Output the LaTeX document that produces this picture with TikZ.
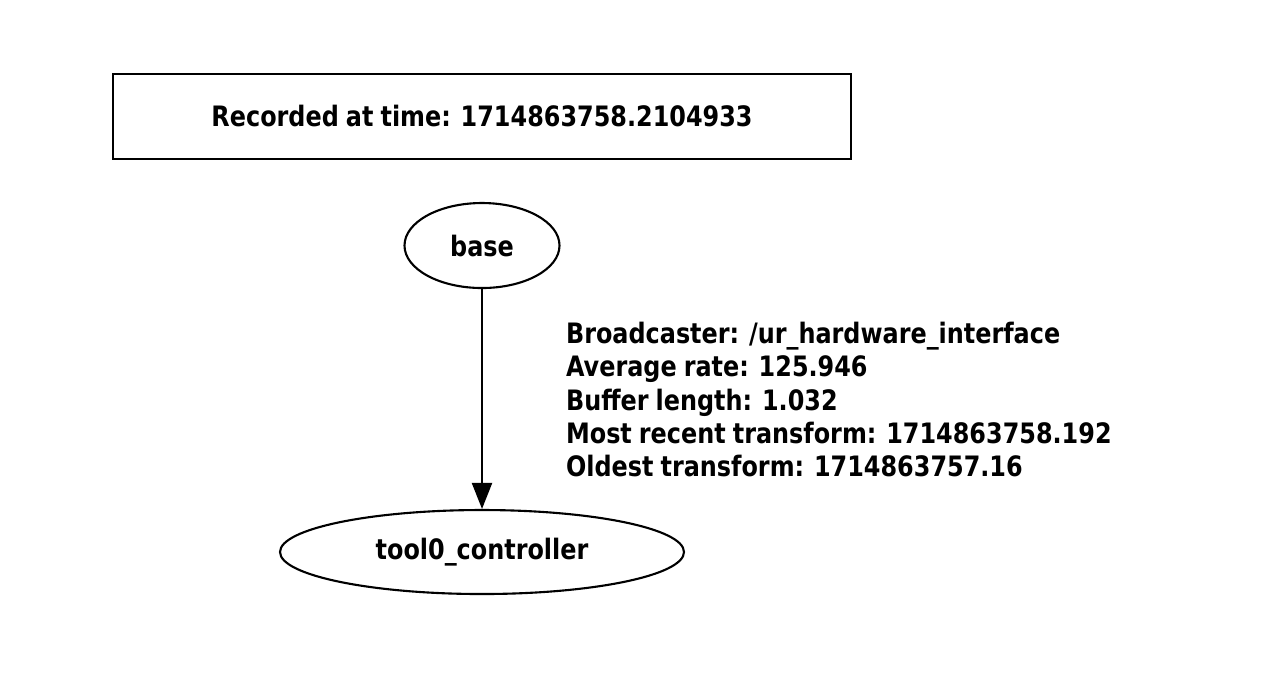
\documentclass[tikz,border=0pt]{standalone}
\usepackage{fontspec}
\setmainfont{DejaVu Sans}[FakeStretch=0.85,WordSpace=0.85]
\usetikzlibrary{arrows.meta,shapes.geometric}

\begin{document}
\begin{tikzpicture}[line width=0.6pt,
  every node/.style={font=\bfseries\fontsize{8}{9.5}\selectfont,inner sep=0pt},
  frame/.style={draw,rectangle,minimum width=7.38cm,minimum height=0.85cm},
  frameoval/.style={draw,ellipse,minimum height=0.85cm}]
\useasboundingbox (0,0) rectangle (12.62,-6.77);
\node[frame] (stamp) at (4.82,-1.165) {Recorded at time: 1714863758.2104933};
\node[frameoval,minimum width=1.55cm] (base) at (4.82,-2.455) {base};
\node[frameoval,minimum width=4.04cm,minimum height=0.84cm] (tool) at (4.82,-5.52) {tool0\_controller};
\draw[-{Triangle[length=0.26cm,width=0.2cm]}] (base) -- (tool);
\node[anchor=west,align=left] (info) at (5.65,-3.995) {Broadcaster: /ur\_hardware\_interface\\
Average rate: 125.946\\
Buffer length: 1.032\\
Most recent transform: 1714863758.192\\
Oldest transform: 1714863757.16};
\end{tikzpicture}
\end{document}
